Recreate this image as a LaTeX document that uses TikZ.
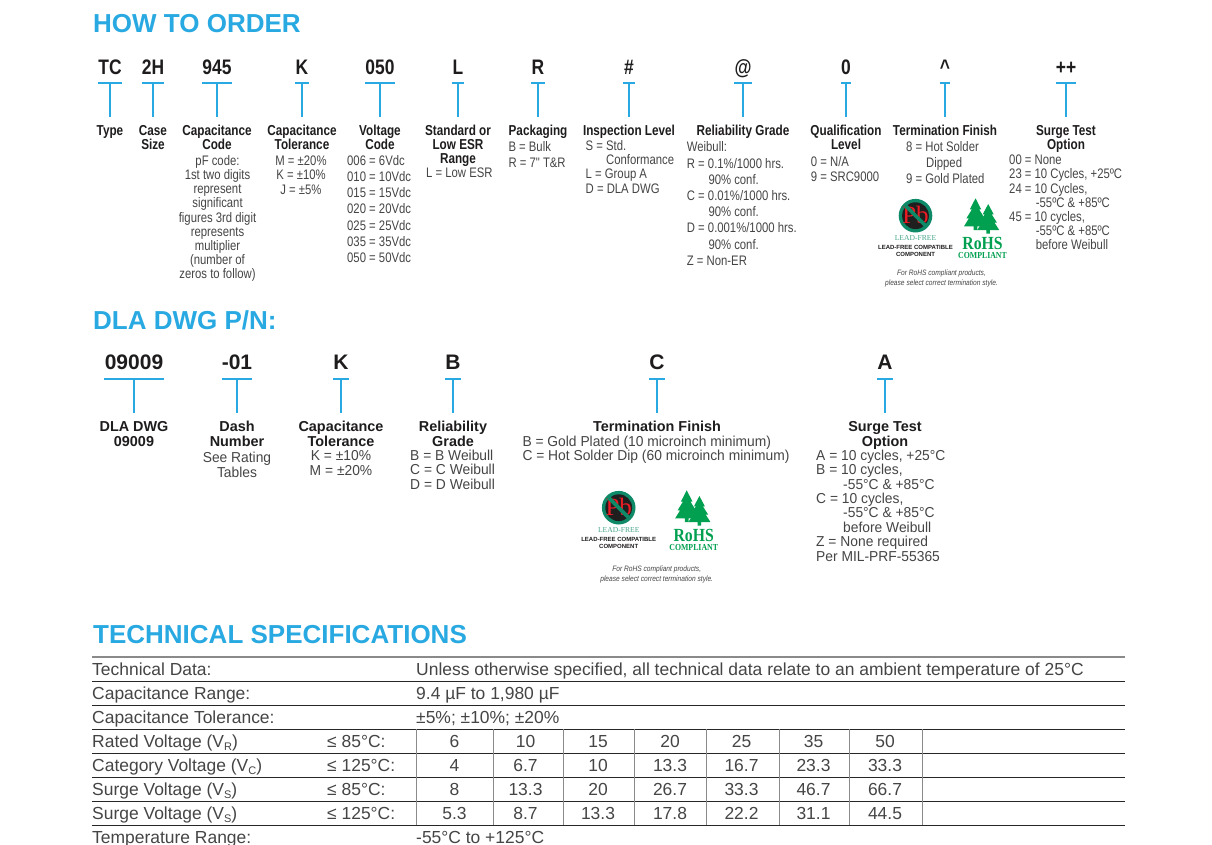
\documentclass[tikz,border=0pt]{standalone}
\usepackage{fontspec}
\setmainfont{Liberation Sans}
\newfontfamily\nrw[FakeStretch=.82]{Liberation Sans}
\newfontfamily\nrwb[FakeStretch=.815]{Liberation Sans}
\newfontfamily\wid[FakeStretch=.96]{Liberation Sans}
\newfontfamily\cod[FakeStretch=.83]{Liberation Sans}
\newfontfamily\srf{Liberation Serif}
\newfontfamily\srfn[FakeStretch=.85]{Liberation Serif}
\newfontfamily\noten[FakeStretch=.85]{Liberation Sans}
\definecolor{cyanhd}{HTML}{29A9E1}
\definecolor{ink}{HTML}{1F1C1D}
\definecolor{bodyc}{HTML}{454545}
\definecolor{leaf}{HTML}{00A050}
\definecolor{ringc}{HTML}{0E8A68}
\definecolor{gridg}{HTML}{8A8A8A}
\definecolor{pbred}{HTML}{ED1C24}
\tikzset{
  hd/.style={anchor=base west,inner sep=0pt,text=cyanhd,font=\fontsize{26}{28}\selectfont\bfseries},
  tee/.style={draw=cyanhd,line width=1.25pt},
  codetop/.style={anchor=south,inner sep=0pt,text=ink,text height=15pt,text depth=8pt,font=\cod\fontsize{21}{21}\selectfont\bfseries},
  codedla/.style={anchor=south,inner sep=0pt,text=ink,text height=15pt,text depth=9pt,font=\fontsize{21}{21}\selectfont\bfseries},
  labeltop/.style={anchor=north,align=center,inner sep=0pt,outer ysep=8pt,text=ink,font=\nrwb\fontsize{14.4}{14}\selectfont\bfseries},
  labeldla/.style={anchor=north,align=center,inner sep=0pt,outer ysep=7pt,text=ink,font=\fontsize{14.4}{15}\selectfont\bfseries},
  bodyn/.style={inner sep=0pt,text=bodyc,font=\nrw\fontsize{13.8}{#1}\selectfont},
  bodyw/.style={inner sep=0pt,text=bodyc,font=\wid\fontsize{14.4}{#1}\selectfont},
  cellt/.style={inner sep=0pt,text=bodyc,anchor=base west,font=\fontsize{17.45}{18}\selectfont},
  cellv/.style={inner sep=0pt,text=bodyc,anchor=base,font=\fontsize{17.45}{18}\selectfont},
  rowline/.style={draw=black!85,line width=.8pt},
  colline/.style={draw=gridg,line width=1pt},
}
\newcommand\sbs[1]{\raisebox{-3pt}{\fontsize{11}{11}\selectfont #1}}
\newcommand\itemtop[5]{%
  \node[codetop,minimum width=#3] (#1c) at (#2,83) {#4};
  \node[labeltop] (#1l) at (#2,117) {\rule{0pt}{11pt}#5};
  \draw[tee] (#1c.south west) -- (#1c.south east);
  \draw[tee] (#1c.south) -- (#1l.north);}
\newcommand\itemdla[5]{%
  \node[codedla,minimum width=#3] (#1c) at (#2,379) {#4};
  \node[labeldla] (#1l) at (#2,413) {\rule{0pt}{11pt}#5};
  \draw[tee] (#1c.south west) -- (#1c.south east);
  \draw[tee] (#1c.south) -- (#1l.north);}
% name, x, first baseline, spacing, text
\newcommand\bodl[5]{\node[bodyn=#4,anchor=north west,align=left] (#1) at (#2,#3-11) {\rule{0pt}{11pt}#5};}
\newcommand\bodc[5]{\node[bodyn=#4,anchor=north,align=center] (#1) at (#2,#3-11) {\rule{0pt}{11pt}#5};}
\newcommand\bowl[5]{\node[bodyw=#4,anchor=north west,align=left] (#1) at (#2,#3-11) {\rule{0pt}{11pt}#5};}
\newcommand\bowc[5]{\node[bodyw=#4,anchor=north,align=center] (#1) at (#2,#3-11) {\rule{0pt}{11pt}#5};}
\newcommand\onetree[4]{% apex x, apex y, half width, height
  \begin{scope}[shift={(#1,#2)},x=#3pt,y=-#4pt]
  \fill[leaf] (0,0)--(-.5,.4)--(-.32,.4)--(-.8,.72)--(-.58,.72)--(-1,1)--(-.16,1)--(-.16,1.14)--(.16,1.14)--(.16,1)--(1,1)--(.58,.72)--(.8,.72)--(.32,.4)--(.5,.4)--cycle;
  \end{scope}}
% name, cx, cy, tree dx, note dx, note dy
\newcommand\logos[6]{%
  \begin{scope}[shift={(#2,#3)}]
  \fill[ringc] (0,0) circle (16.8pt);
  \fill[black!88] (0,0) circle (13.4pt);
  \node[inner sep=0pt,text=pbred,font=\srf\fontsize{25}{25}\selectfont] (#1pb) at (0,-.5) {Pb};
  \draw[ringc,line width=3.6pt] (-10,-10) -- (10,10);
  \node[inner sep=0pt,anchor=base,text=ringc!75,font=\srf\fontsize{7.6}{8}\selectfont] (#1lf) at (0,24.3) {LEAD-FREE};
  \node[inner sep=0pt,anchor=base,text=ink,font=\fontsize{6}{6}\selectfont\bfseries] (#1a) at (0,33.6) {LEAD-FREE COMPATIBLE};
  \node[inner sep=0pt,anchor=base,text=ink,font=\fontsize{6}{6}\selectfont\bfseries] (#1b) at (0,41) {COMPONENT};
  \onetree{#4+60}{-17.4}{11.5}{28}
  \onetree{#4+72.7}{-11.7}{11}{26}
  \node[inner sep=0pt,anchor=base,text=leaf,font=\srfn\fontsize{18.5}{18}\selectfont\bfseries] (#1r) at (#4+67,33.6) {RoHS};
  \node[inner sep=0pt,anchor=base,text=leaf,font=\srfn\fontsize{9.2}{9}\selectfont\bfseries] (#1co) at (#4+67,42.5) {COMPLIANT};
  \node[inner sep=0pt,anchor=base,text=bodyc,font=\noten\fontsize{7.8}{8}\selectfont\itshape] (#1n) at (#5+26,#6+59.3) {For RoHS compliant products,};
  \node[inner sep=0pt,anchor=base,text=bodyc,font=\noten\fontsize{7.8}{8}\selectfont\itshape] (#1m) at (#5+26,#6+69.3) {please select correct termination style.};
  \end{scope}}
\begin{document}
\begin{tikzpicture}[x=1pt,y=-1pt]
\useasboundingbox (0,0) rectangle (1212,845);
\fill[white] (0,0) rectangle (1212,845);

\node[hd] (h1) at (93,33) {HOW TO ORDER};
\node[hd] (h2) at (93,329) {DLA DWG P/N:};
\node[hd] (h3) at (93,643) {TECHNICAL SPECIFICATIONS};

\itemtop{a}{110}{24pt}{TC}{Type}
\itemtop{b}{153}{22pt}{2H}{Case\\Size}
\itemtop{d}{217}{28pt}{945}{Capacitance\\Code}
\itemtop{e}{302}{13pt}{K}{Capacitance\\Tolerance}
\itemtop{f}{380}{28pt}{050}{Voltage\\Code}
\itemtop{g}{458}{12pt}{L}{Standard or\\Low ESR\\Range}
\itemtop{h}{538}{13pt}{R}{Packaging}
\itemtop{i}{629}{12pt}{\#}{Inspection Level}
\itemtop{j}{743}{13pt}{@}{Reliability Grade}
\itemtop{k}{846}{10pt}{0}{Qualification\\Level}
\itemtop{m}{945}{9pt}{\textasciicircum}{Termination Finish}
\itemtop{n}{1066}{19pt}{++}{Surge Test\\Option}

\bodc{bd}{217.5}{165}{14.2}{pF code:\\1st two digits\\represent\\significant\\figures 3rd digit\\represents\\multiplier\\(number of\\zeros to follow)}
\bodc{be}{301}{165}{14.4}{M = ±20\%\\K = ±10\%\\J = ±5\%}
\bodl{bf}{347}{165}{16.2}{006 = 6Vdc\\010 = 10Vdc\\015 = 15Vdc\\020 = 20Vdc\\025 = 25Vdc\\035 = 35Vdc\\050 = 50Vdc}
\bodl{bg}{426}{177.6}{14}{L = Low ESR}
\bodl{bh}{508.3}{151.5}{15.7}{B = Bulk\\R = 7" T\&R}
\bodl{bi}{585.5}{150}{14.3}{S = Std.\\\hspace*{20.5pt}Conformance\\L = Group A\\D = DLA DWG}
\bodl{bj}{686.7}{151.7}{16.2}{Weibull:\\R = 0.1\%/1000 hrs.\\\hspace*{21.6pt}90\% conf.\\C = 0.01\%/1000 hrs.\\\hspace*{21.6pt}90\% conf.\\D = 0.001\%/1000 hrs.\\\hspace*{21.6pt}90\% conf.\\Z = Non-ER}
\bodl{bk}{810.7}{166}{15.5}{0 = N/A\\9 = SRC9000}
\bodl{bm}{906}{151.7}{16}{8 = Hot Solder\\\hspace*{20pt}Dipped\\9 = Gold Plated}
\bodl{bn}{1009}{164.5}{14.2}{00 = None\\23 = 10 Cycles, +25ºC\\24 = 10 Cycles,\\\hspace*{26.7pt}-55ºC \& +85ºC\\45 = 10 cycles,\\\hspace*{26.7pt}-55ºC \& +85ºC\\\hspace*{26.7pt}before Weibull}

\logos{lga}{915.5}{215.7}{0}{0}{0}

\itemdla{p}{134}{59pt}{09009}{DLA DWG\\09009}
\itemdla{q}{237}{28pt}{-01}{Dash\\Number}
\itemdla{r}{341}{14pt}{K}{Capacitance\\Tolerance}
\itemdla{s}{453}{13pt}{B}{Reliability\\Grade}
\itemdla{t}{657}{15pt}{C}{Termination Finish}
\itemdla{u}{885}{15pt}{A}{Surge Test\\Option}

\bowc{bq}{237}{462}{15.7}{See Rating\\Tables}
\bowc{br}{341}{460.5}{15}{K = ±10\%\\M = ±20\%}
\bowl{bs}{410}{460}{14.5}{B = B Weibull\\C = C Weibull\\D = D Weibull}
\bowl{bt}{522.3}{446}{14.3}{B = Gold Plated (10 microinch minimum)\\C = Hot Solder Dip (60 microinch minimum)}
\bowl{bu}{816}{460}{14.4}{A = 10 cycles, +25°C\\B = 10 cycles,\\\hspace*{27pt}-55°C \& +85°C\\C = 10 cycles,\\\hspace*{27pt}-55°C \& +85°C\\\hspace*{27pt}before Weibull\\Z = None required\\Per MIL-PRF-55365}

\logos{lgb}{618.7}{507.7}{8}{12}{4}

% table
\draw[draw=gridg,line width=1.6pt] (92,657) -- (1125,657);
\foreach \yy in {681,705,729,753,777,801,825} \draw[rowline] (92,\yy) -- (1125,\yy);
\foreach \xx in {416,493,563,634,706,779,849,922} \draw[colline] (\xx,729) -- (\xx,825);

\node[cellt] (t1) at (92,675.5) {Technical Data:};
\node[cellt] (t2) at (92,699.5) {Capacitance Range:};
\node[cellt] (t3) at (92,723.5) {Capacitance Tolerance:};
\node[cellt] (t4) at (92,747.5) {Rated Voltage (V\sbs{R})};
\node[cellt] (t5) at (92,771.5) {Category Voltage (V\sbs{C})};
\node[cellt] (t6) at (92,795.5) {Surge Voltage (V\sbs{S})};
\node[cellt] (t7) at (92,819.5) {Surge Voltage (V\sbs{S})};
\node[cellt] (t8) at (92,843.5) {Temperature Range:};
\node[cellt] (u1) at (416,675.5) {Unless otherwise specified, all technical data relate to an ambient temperature of 25°C};
\node[cellt] (u2) at (416,699.5) {9.4 µF to 1,980 µF};
\node[cellt] (u3) at (416,723.5) {±5\%; ±10\%; ±20\%};
\node[cellt] (u8) at (416,843.5) {-55°C to +125°C};
\node[cellt] (c4) at (327,747.5) {≤ 85°C:};
\node[cellt] (c5) at (327,771.5) {≤ 125°C:};
\node[cellt] (c6) at (327,795.5) {≤ 85°C:};
\node[cellt] (c7) at (327,819.5) {≤ 125°C:};
\foreach \xx/\va/\vb/\vc/\vd in {454.5/6/4/8/5.3, 525.5/10/6.7/13.3/8.7, 598/15/10/20/13.3, 670/20/13.3/26.7/17.8, 741.5/25/16.7/33.3/22.2, 813.5/35/23.3/46.7/31.1, 885/50/33.3/66.7/44.5}{
  \node[cellv] at (\xx,747.5) {\va};
  \node[cellv] at (\xx,771.5) {\vb};
  \node[cellv] at (\xx,795.5) {\vc};
  \node[cellv] at (\xx,819.5) {\vd};
}
\end{tikzpicture}
\end{document}
